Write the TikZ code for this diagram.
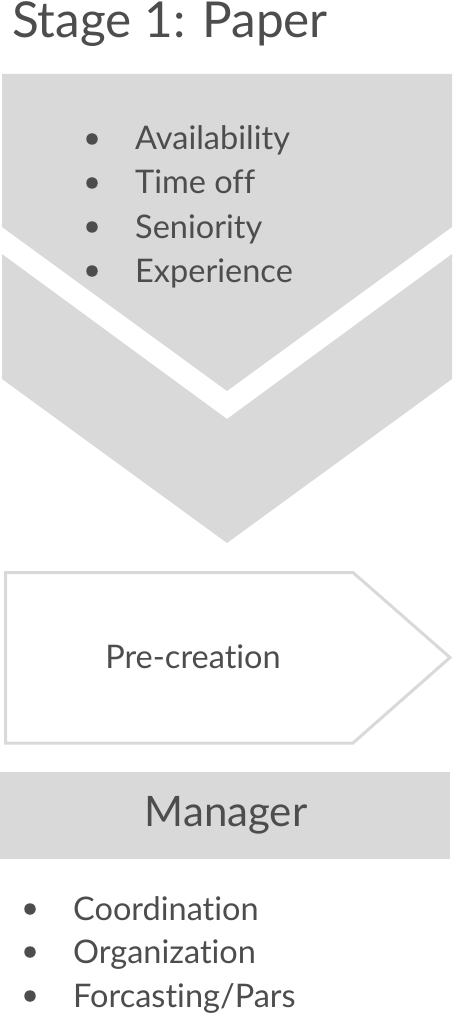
\documentclass[tikz,border=0pt]{standalone}
\usepackage{fontspec}
\setmainfont{Lato}[Ligatures=NoCommon]
\definecolor{txt}{HTML}{4D4D4D}
\definecolor{lightgr}{HTML}{D9D9D9}
\begin{document}
\begin{tikzpicture}[x=1pt,y=-1pt,
  lbl/.style={inner sep=0pt,text=txt,anchor=base},
  item/.style={inner sep=0pt,text=txt,anchor=base west,font=\fontsize{32.5}{36}\selectfont},
  dot/.style={circle,fill=txt,inner sep=0pt,minimum size=11.5pt},
  band/.style={fill=lightgr,draw=none}]
\useasboundingbox (0,0) rectangle (454,1016);
% title
\node[lbl,anchor=base west,font=\fontsize{49.5}{55}\selectfont] (title) at (12,38) {Stage 1: Paper};
% upper chevron
\path[band] (2,74) -- (452,74) -- (452,227) -- (227,391) -- (2,227) -- cycle;
% lower chevron
\path[band] (2,254) -- (227,419) -- (452,254) -- (452,379) -- (227,543) -- (2,379) -- cycle;
% top bullets
\node[dot] (d1) at (92,139) {};
\node[item] (i1) at (135,150) {Availability};
\node[dot] (d2) at (92,183) {};
\node[item] (i2) at (135,194) {Time off};
\node[dot] (d3) at (92,227) {};
\node[item] (i3) at (135,238) {Seniority};
\node[dot] (d4) at (92,271) {};
\node[item] (i4) at (135,282) {Experience};
% pre-creation pentagon
\draw[draw=lightgr,line width=3pt,line join=miter] (5.5,572.5) -- (353,572.5) -- (450,657.5) -- (353,743) -- (5.5,743) -- cycle;
\node[lbl,font=\fontsize{32.5}{36}\selectfont] (pre) at (193,668) {Pre-creation};
% manager
\path[band] (0,772) rectangle (450,859);
\node[lbl,font=\fontsize{42}{48}\selectfont] (mgr) at (226,826) {Manager};
% bottom bullets
\node[dot] (e1) at (30,909) {};
\node[item] (j1) at (73,920) {Coordination};
\node[dot] (e2) at (30,952) {};
\node[item] (j2) at (73,963) {Organization};
\node[dot] (e3) at (30,996) {};
\node[item] (j3) at (73,1007) {Forcasting/Pars};
\end{tikzpicture}
\end{document}
